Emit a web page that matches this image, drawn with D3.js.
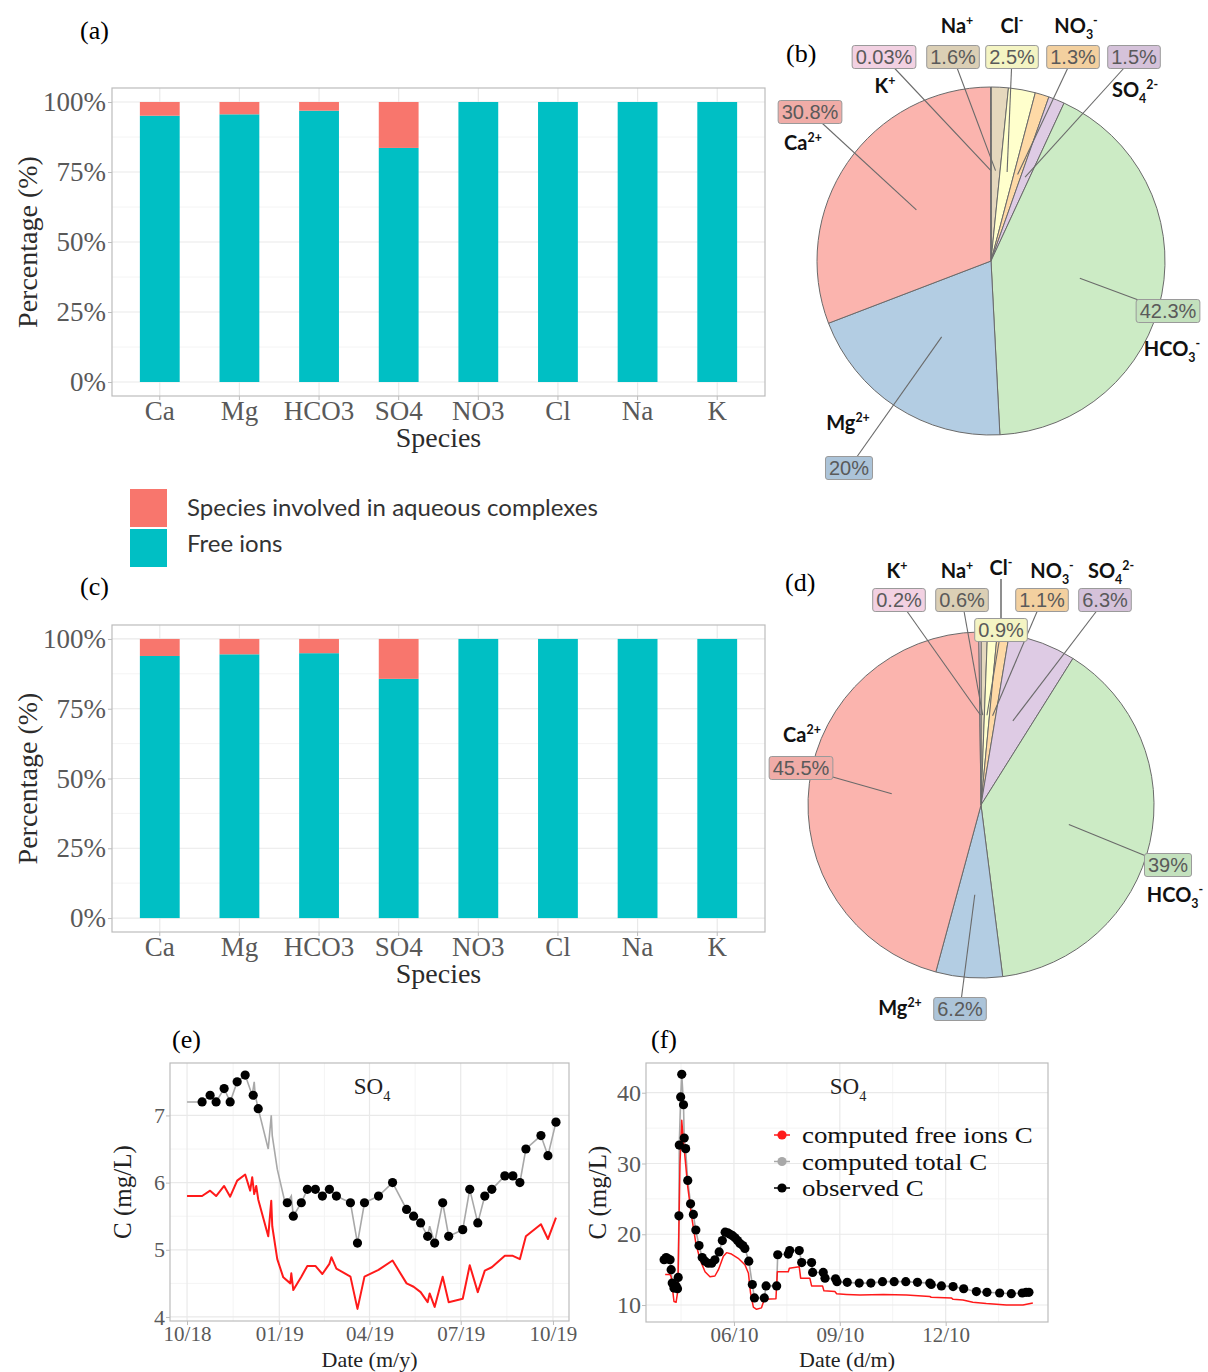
<!DOCTYPE html>
<html>
<head>
<meta charset="utf-8">
<script src="https://cdn.jsdelivr.net/npm/d3@7/dist/d3.min.js"></script>
<style>
  html, body { margin: 0; padding: 0; background: #fff; }
  svg { display: block; }
</style>
</head>
<body>
<svg id="fig" width="1208" height="1372"></svg>
<script>
// ---------- Species partitioning (bar charts a, c) ----------
const species = ["Ca", "Mg", "HCO3", "SO4", "NO3", "Cl", "Na", "K"];
const freeIonsA = [95.1, 95.6, 96.9, 83.6, 100, 100, 100, 100];
const freeIonsC = [93.9, 94.5, 94.9, 85.7, 100, 100, 100, 100];
const percentTicks = [0, 25, 50, 75, 100];
const barLegend = ["Species involved in aqueous complexes", "Free ions"];

// ---------- Ionic composition (pie charts b, d), clockwise from 12 o'clock ----------
const ions = ["Na", "Cl", "NO3", "SO4", "HCO3", "Mg", "Ca", "K"];
const shareB = [1.6, 2.5, 1.3, 1.5, 42.3, 20, 30.8, 0.03];
const shareD = [0.6, 0.9, 1.1, 6.3, 39, 6.2, 45.5, 0.2];

// ---------- SO4 time series, panel e (one year) ----------
const obsEDate = ["2018-10-16","2018-10-24","2018-10-30","2018-11-07","2018-11-13","2018-11-20","2018-11-28","2018-12-06","2018-12-11",
  "2019-01-09","2019-01-15","2019-01-23","2019-01-29","2019-02-06","2019-02-13","2019-02-20","2019-02-27","2019-03-13","2019-03-20",
  "2019-03-27","2019-04-10","2019-04-24","2019-05-08","2019-05-15","2019-05-22","2019-05-29","2019-06-05","2019-06-13","2019-06-19",
  "2019-07-03","2019-07-10","2019-07-18","2019-07-25","2019-08-01","2019-08-14","2019-08-22","2019-08-29","2019-09-04","2019-09-19",
  "2019-09-26","2019-10-04"];
const obsEVal = [7.2,7.3,7.2,7.4,7.2,7.5,7.6,7.3,7.1,
  5.7,5.5,5.7,5.9,5.9,5.8,5.9,5.8,5.7,5.1,
  5.7,5.8,6.0,5.6,5.5,5.4,5.2,5.1,5.7,5.2,
  5.3,5.9,5.4,5.8,5.9,6.1,6.1,6.0,6.5,6.7,
  6.4,6.9];
const totalEDate = ["2018-10-01","2018-10-16","2018-10-24","2018-10-30","2018-11-07","2018-11-13","2018-11-20","2018-11-28","2018-12-05",
  "2018-12-07","2018-12-08","2018-12-11","2018-12-21","2018-12-24","2018-12-25","2018-12-30","2019-01-06","2019-01-09","2019-01-13",
  "2019-01-15","2019-01-23","2019-01-29","2019-02-06","2019-02-13","2019-02-20","2019-02-27","2019-03-13","2019-03-20","2019-03-27",
  "2019-04-10","2019-04-24","2019-05-08","2019-05-15","2019-05-22","2019-05-29","2019-05-31","2019-06-05","2019-06-13","2019-06-19",
  "2019-07-03","2019-07-10","2019-07-18","2019-07-25","2019-08-01","2019-08-14","2019-08-22","2019-08-29","2019-09-04","2019-09-19",
  "2019-09-26","2019-10-04"];
const totalEVal = [7.2,7.2,7.3,7.2,7.4,7.2,7.5,7.6,7.3,
  7.5,7.3,7.1,6.5,7.0,6.7,6.2,5.75,5.7,5.8,
  5.5,5.7,5.9,5.9,5.8,5.9,5.8,5.7,5.1,5.7,
  5.8,6.0,5.6,5.5,5.4,5.2,5.35,5.1,5.7,5.2,
  5.3,5.9,5.4,5.8,5.9,6.1,6.1,6.0,6.5,6.7,
  6.4,6.9];
const freeEDate = ["2018-10-01","2018-10-16","2018-10-24","2018-10-30","2018-11-07","2018-11-13","2018-11-20","2018-11-28","2018-12-03",
  "2018-12-05","2018-12-07","2018-12-09","2018-12-11","2018-12-21","2018-12-24","2018-12-25","2018-12-30","2019-01-05","2019-01-12",
  "2019-01-13","2019-01-15","2019-01-23","2019-01-29","2019-02-06","2019-02-13","2019-02-20","2019-02-22","2019-02-27","2019-03-13",
  "2019-03-20","2019-03-27","2019-04-10","2019-04-24","2019-05-08","2019-05-15","2019-05-22","2019-05-29","2019-05-31","2019-06-05",
  "2019-06-13","2019-06-19","2019-07-03","2019-07-10","2019-07-18","2019-07-25","2019-08-01","2019-08-14","2019-08-22","2019-08-29",
  "2019-09-04","2019-09-19","2019-09-26","2019-10-04"];
const freeEVal = [5.8,5.8,5.88,5.8,5.95,5.79,6.03,6.12,5.88,
  6.08,5.83,5.95,5.75,5.2,5.73,5.35,4.86,4.59,4.5,
  4.65,4.4,4.6,4.76,4.76,4.64,4.79,4.89,4.72,4.6,
  4.12,4.6,4.7,4.84,4.5,4.45,4.37,4.22,4.35,4.15,
  4.6,4.22,4.27,4.77,4.37,4.69,4.74,4.91,4.91,4.86,
  5.2,5.38,5.16,5.48];
const yearTicks = ["2018-10-01","2019-01-01","2019-04-01","2019-07-01","2019-10-01"];
const concTicksE = [4, 5, 6, 7];

// ---------- SO4 time series, panel f (day of October) ----------
const obsFDay = [4.02,4.08,4.14,4.19,4.22,4.25,4.30,4.36,4.40,4.42,4.44,4.45,4.49,4.52,4.57,4.59,4.63,4.69,4.77,4.85,
  4.92,5.01,5.10,5.18,5.27,5.37,5.46,5.58,5.67,5.75,5.82,5.89,5.96,6.03,6.10,6.17,6.25,6.31,6.42,6.52,
  6.58,6.86,6.91,7.21,7.24,7.54,7.58,7.85,7.92,8.20,8.23,8.53,8.58,8.88,8.92,9.21,9.55,9.88,10.21,10.54,
  10.87,11.20,11.55,11.59,11.88,12.21,12.51,12.87,13.17,13.53,13.86,14.17,14.28,14.36];
const obsFVal = [16.4,16.7,16.5,16.4,15.0,13.1,12.4,12.7,12.3,13.9,22.6,32.6,39.4,42.6,38.3,33.6,32.1,27.6,24.3,22.8,
  20.6,18.4,16.7,16.2,15.9,15.9,16.4,17.5,19.1,20.3,20.2,20.0,19.8,19.5,19.1,18.7,18.4,18.0,16.2,12.9,
  11.0,11.0,12.7,12.7,17.1,17.2,17.7,17.7,16.0,16.0,14.6,14.6,13.8,13.7,13.3,13.2,13.1,13.1,13.3,13.3,
  13.3,13.2,13.1,12.9,12.7,12.6,12.3,11.9,11.8,11.7,11.6,11.7,11.8,11.8];
const totalFVal = [16.4,16.6,16.5,16.3,15.0,13.0,12.3,12.6,12.2,13.8,22.6,32.6,39.4,42.6,38.3,33.6,32.0,27.6,24.3,22.7,
  20.5,18.4,16.7,16.2,15.9,15.9,16.4,17.5,19.1,20.3,20.2,20.0,19.8,19.5,19.1,18.7,18.4,18.0,16.2,12.9,
  11.0,11.0,12.7,12.7,17.1,17.2,17.7,17.7,16.0,16.0,14.6,14.6,13.8,13.7,13.3,13.2,13.1,13.1,13.3,13.3,
  13.3,13.2,13.1,12.9,12.7,12.6,12.3,11.9,11.8,11.7,11.6,11.7,11.8,11.8];
const freeFDay = [4.05,4.19,4.22,4.26,4.30,4.36,4.40,4.42,4.47,4.52,4.57,4.61,4.69,4.80,4.92,5.04,5.18,5.32,5.46,5.56,
  5.70,5.79,5.93,6.12,6.31,6.41,6.47,6.55,6.64,6.78,6.86,7.19,7.23,7.54,7.57,7.85,7.89,8.15,8.20,8.51,
  8.55,8.86,8.91,9.19,9.57,10.23,10.89,11.55,11.59,12.16,12.21,12.49,12.77,13.15,13.72,14.19,14.47];
const freeFVal = [14.3,14.3,14.0,12.2,10.5,10.4,11.7,15.0,30.0,36.1,33.0,31.0,26.7,22.5,18.7,16.4,14.7,14.0,14.1,15.0,
  16.9,17.4,17.2,16.6,15.7,14.5,11.7,9.7,9.4,9.6,10.8,10.9,14.7,14.7,15.2,15.4,13.8,13.8,12.7,12.7,
  12.0,11.9,11.6,11.5,11.4,11.5,11.4,11.2,11.1,11.0,10.8,10.7,10.4,10.2,10.0,10.0,10.3];
const octTicks = [6, 9, 12];
const concTicksF = [10, 20, 30, 40];
const seriesLegend = ["computed free ions C", "computed total C", "observed C"];

// ---------- Styling ----------
const SERIF = "'Liberation Serif', 'Times New Roman', serif";
const SANS = "'Liberation Sans', Arial, sans-serif";
const SOFT = "Lato, 'Open Sans', sans-serif";
const GRID = "#e9e9e9", GRID_MINOR = "#f4f4f4", FRAME = "#bcbcbc", TICK_TXT = "#595959";
const COL_COMPLEX = "#F8766D", COL_FREE = "#00BFC4";
const COL_RED = "#ff1a1a", COL_GRAY = "#a8a8a8";
const ionColor = { Ca: "#fbb4ae", Mg: "#b3cde3", HCO3: "#ccebc5", SO4: "#decbe4",
                   NO3: "#fed9a6", Cl: "#ffffcc", Na: "#e5d8bd", K: "#fddaec" };
// chemical names split into [text, kind] pieces
const ionParts = {
  Na: [["Na", ""], ["+", "sup"]],
  Cl: [["Cl", ""], ["-", "sup"]],
  NO3: [["NO", ""], ["3", "sub"], ["-", "sup"]],
  SO4: [["SO", ""], ["4", "sub"], ["2-", "sup"]],
  HCO3: [["HCO", ""], ["3", "sub"], ["-", "sup"]],
  Mg: [["Mg", ""], ["2+", "sup"]],
  Ca: [["Ca", ""], ["2+", "sup"]],
  K: [["K", ""], ["+", "sup"]]
};

const svg = d3.select("#fig");

function text(parent, x, y, str, size, family, o = {}) {
  const t = parent.append("text").attr("x", x).attr("y", y)
    .attr("font-size", size).attr("font-family", family)
    .attr("fill", o.fill || "#000").attr("text-anchor", o.anchor || "start")
    .text(str);
  if (o.weight) t.attr("font-weight", o.weight);
  if (o.rotate) t.attr("transform", `rotate(${o.rotate},${x},${y})`);
  return t;
}

function richText(parent, x, y, parts, size, family, o = {}) {
  const t = parent.append("text").attr("x", x).attr("y", y)
    .attr("font-size", size).attr("font-family", family)
    .attr("fill", o.fill || "#000").attr("text-anchor", o.anchor || "middle");
  if (o.weight) t.attr("font-weight", o.weight);
  let shift = 0;
  parts.forEach(([s, kind]) => {
    const target = kind === "sub" ? size * 0.3 : kind === "sup" ? -size * 0.42 : 0;
    t.append("tspan").attr("dy", target - shift)
      .attr("font-size", kind ? size * 0.62 : size).text(s);
    shift = target;
  });
  return t;
}

function styleAxis(sel, size) {
  sel.select(".domain").remove();
  sel.selectAll(".tick line").attr("stroke", FRAME);
  sel.selectAll(".tick text").attr("font-family", SERIF).attr("font-size", size).attr("fill", TICK_TXT);
}

function hLines(g, vals, y, x0, x1, color, w) {
  g.append("g").selectAll("line").data(vals).join("line")
    .attr("x1", x0).attr("x2", x1).attr("y1", d => y(d)).attr("y2", d => y(d))
    .attr("stroke", color).attr("stroke-width", w);
}
function vLines(g, vals, x, y0, y1, color, w) {
  g.append("g").selectAll("line").data(vals).join("line")
    .attr("y1", y0).attr("y2", y1).attr("x1", d => x(d)).attr("x2", d => x(d))
    .attr("stroke", color).attr("stroke-width", w);
}

// ---------- Stacked 100% bars ----------
function barPanel(free, top, bottom) {
  const left = 112, right = 765;
  const g = svg.append("g");
  const x = d3.scaleBand().domain(species).range([left, right]).paddingInner(0.5).paddingOuter(0.35);
  const y = d3.scaleLinear().domain([-5, 105]).range([bottom, top]);
  const mid = d => x(d) + x.bandwidth() / 2;

  hLines(g, d3.pairs(percentTicks).map(([a, b]) => (a + b) / 2), y, left, right, GRID_MINOR, 1);
  hLines(g, percentTicks, y, left, right, GRID, 1.2);
  vLines(g, species, mid, top, bottom, GRID, 1.2);

  const rows = species.map((s, i) => ({ s, free: free[i], complex: 100 - free[i] }));
  const layers = d3.stack().keys(["free", "complex"])(rows);
  g.append("g").selectAll("g").data(layers).join("g")
    .attr("fill", d => d.key === "free" ? COL_FREE : COL_COMPLEX)
    .selectAll("rect").data(d => d).join("rect")
    .attr("x", d => x(d.data.s)).attr("width", x.bandwidth())
    .attr("y", d => y(d[1])).attr("height", d => y(d[0]) - y(d[1]));

  g.append("rect").attr("x", left).attr("y", top).attr("width", right - left)
    .attr("height", bottom - top).attr("fill", "none").attr("stroke", FRAME).attr("stroke-width", 1.2);

  styleAxis(g.append("g").attr("transform", `translate(${left},0)`)
    .call(d3.axisLeft(y).tickValues(percentTicks).tickFormat(d => d + "%").tickSize(4).tickPadding(2)), 27);
  styleAxis(g.append("g").attr("transform", `translate(0,${bottom})`)
    .call(d3.axisBottom(x).tickSize(4).tickPadding(1)), 27);

  text(g, (left + right) / 2, bottom + 51, "Species", 28, SERIF, { anchor: "middle", fill: "#2b2b2b" });
  text(g, 37, (top + bottom) / 2, "Percentage (%)", 28, SERIF, { anchor: "middle", fill: "#2b2b2b", rotate: -90 });
}

// ---------- Pie with labelled boxes ----------
function piePanel(shares, cx, cy, r, layout) {
  const g = svg.append("g").attr("transform", `translate(${cx},${cy})`);
  const rows = ions.map((k, i) => ({ k, v: shares[i] }));
  const arcs = d3.pie().sort(null).value(d => d.v)(rows);
  const arc = d3.arc().innerRadius(0).outerRadius(r);
  g.selectAll("path").data(arcs).join("path").attr("d", arc)
    .attr("fill", d => ionColor[d.data.k]).attr("stroke", "#6a6a6a").attr("stroke-width", 1);

  const anchor = d3.arc().innerRadius(r * 0.52).outerRadius(r * 0.52);
  const lab = svg.append("g");
  arcs.forEach(a => {
    const L = layout[a.data.k];
    const [px, py] = anchor.centroid(a);
    lab.append("line").attr("x1", L.box[0]).attr("y1", L.box[1])
      .attr("x2", cx + px).attr("y2", cy + py).attr("stroke", "#6a6a6a").attr("stroke-width", 1.1);
    if (L.link) lab.append("line").attr("x1", L.name[0]).attr("y1", L.name[1] + 4)
      .attr("x2", L.box[0]).attr("y2", L.box[1]).attr("stroke", "#333").attr("stroke-width", 1.1);
  });
  arcs.forEach(a => {
    const L = layout[a.data.k];
    const t = text(lab, L.box[0], L.box[1] + 7, a.data.v + "%", 20, SANS, { anchor: "middle", fill: "#5a5a5a" });
    const w = t.node().getComputedTextLength() + 7;
    lab.insert("rect", () => t.node())
      .attr("x", L.box[0] - w / 2).attr("y", L.box[1] - 11.5).attr("width", w).attr("height", 23)
      .attr("rx", 2.5).attr("fill", d3.color(ionColor[a.data.k]).darker(0.12))
      .attr("stroke", "#9a9a9a").attr("stroke-width", 1);
    richText(lab, L.name[0], L.name[1], ionParts[a.data.k], 20, SOFT, { weight: 700, fill: "#111" });
  });
}

// ---------- Time series panel ----------
function timePanel(cfg) {
  const { left, right, top, bottom, x, y } = cfg;
  const g = svg.append("g");
  hLines(g, cfg.yMinor, y, left, right, GRID_MINOR, 1);
  vLines(g, cfg.xMinor, x, top, bottom, GRID_MINOR, 1);
  hLines(g, cfg.yTicks, y, left, right, GRID, 1.2);
  vLines(g, cfg.xTicks, x, top, bottom, GRID, 1.2);

  const line = d3.line().x(d => x(d[0])).y(d => y(d[1]));
  g.append("path").datum(cfg.total).attr("d", line).attr("fill", "none")
    .attr("stroke", COL_GRAY).attr("stroke-width", 1.6);
  g.append("path").datum(cfg.free).attr("d", line).attr("fill", "none")
    .attr("stroke", COL_RED).attr("stroke-width", cfg.redWidth).attr("stroke-linejoin", "round");
  g.append("g").selectAll("circle").data(cfg.obs).join("circle")
    .attr("cx", d => x(d[0])).attr("cy", d => y(d[1])).attr("r", 4.6).attr("fill", "#000");

  g.append("rect").attr("x", left).attr("y", top).attr("width", right - left)
    .attr("height", bottom - top).attr("fill", "none").attr("stroke", FRAME).attr("stroke-width", 1.2);

  styleAxis(g.append("g").attr("transform", `translate(${left},0)`)
    .call(d3.axisLeft(y).tickValues(cfg.yTicks).tickFormat(d3.format("d")).tickSize(4).tickPadding(1)), cfg.yTickSize);
  styleAxis(g.append("g").attr("transform", `translate(0,${bottom})`)
    .call(d3.axisBottom(x).tickValues(cfg.xTicks).tickFormat(d3.timeFormat(cfg.fmt)).tickSize(4).tickPadding(1)), 21);

  text(g, (left + right) / 2, 1367, cfg.xTitle, 22, SERIF, { anchor: "middle", fill: "#222" });
  text(g, cfg.yTitleX, (top + bottom) / 2, "C (mg/L)", 25, SERIF, { anchor: "middle", fill: "#222", rotate: -90 });
  richText(g, cfg.titleX, 1094, [["SO", ""], ["4", "sub"]], 23, SERIF, { fill: "#222" });
  return g;
}

// ---------- Panel a / c ----------
text(svg, 80, 39, "(a)", 26, SERIF);
barPanel(freeIonsA, 88, 396);
text(svg, 80, 595, "(c)", 26, SERIF);
barPanel(freeIonsC, 625, 932);

// shared legend for the bar charts
const legendColors = [COL_COMPLEX, COL_FREE];
barLegend.forEach((lbl, i) => {
  svg.append("rect").attr("x", 130).attr("y", 489 + i * 40).attr("width", 37).attr("height", 38)
    .attr("fill", legendColors[i]);
  text(svg, 187, 516 + i * 36, lbl, 24, SOFT, { fill: "#333" });
});

// ---------- Panel b / d ----------
text(svg, 786, 62, "(b)", 26, SERIF);
piePanel(shareB, 991, 261, 174, {
  Na:   { name: [957, 33],  box: [953, 57] },
  Cl:   { name: [1012, 33], box: [1012, 57] },
  NO3:  { name: [1076, 33], box: [1073, 57] },
  SO4:  { name: [1135, 97], box: [1134, 57] },
  HCO3: { name: [1172, 356], box: [1168, 311] },
  Mg:   { name: [848, 430], box: [849, 468] },
  Ca:   { name: [803, 150], box: [810, 112] },
  K:    { name: [885, 93],  box: [884, 57] }
});
text(svg, 785, 591, "(d)", 26, SERIF);
piePanel(shareD, 981, 805, 173, {
  Na:   { name: [957, 578],  box: [962, 600] },
  Cl:   { name: [1001, 575], box: [1001, 630], link: true },
  NO3:  { name: [1052, 578], box: [1042, 600] },
  SO4:  { name: [1111, 578], box: [1105, 600] },
  HCO3: { name: [1175, 902], box: [1168, 865] },
  Mg:   { name: [900, 1015], box: [960, 1009] },
  Ca:   { name: [802, 742],  box: [801, 768] },
  K:    { name: [897, 578],  box: [899, 600] }
});

// ---------- Panel e ----------
const pDate = d3.timeParse("%Y-%m-%d");
const zip = (xs, ys, f) => xs.map((v, i) => [f(v), ys[i]]);
text(svg, 172, 1048, "(e)", 26, SERIF);
const xE = d3.scaleTime().domain([pDate("2018-09-14"), pDate("2019-10-17")]).range([170, 569]);
const yE = d3.scaleLinear().domain([3.94, 7.78]).range([1321, 1063]);
timePanel({
  left: 170, right: 569, top: 1063, bottom: 1321, x: xE, y: yE,
  xTicks: yearTicks.map(pDate),
  xMinor: d3.pairs(yearTicks.map(pDate)).map(([a, b]) => new Date((+a + +b) / 2)),
  yTicks: concTicksE, yMinor: d3.pairs(concTicksE).map(([a, b]) => (a + b) / 2),
  fmt: "%m/%y", xTitle: "Date (m/y)", yTitleX: 131, titleX: 372, yTickSize: 22, redWidth: 2,
  total: zip(totalEDate, totalEVal, pDate),
  free: zip(freeEDate, freeEVal, pDate),
  obs: zip(obsEDate, obsEVal, pDate)
});

// ---------- Panel f ----------
const octDay = d => new Date(2010, 9, 1, 0, 0).getTime() + (d - 1) * 864e5;
const oct = d => new Date(octDay(d));
text(svg, 651, 1048, "(f)", 26, SERIF);
const xF = d3.scaleTime().domain([oct(3.507), oct(14.9)]).range([646, 1048]);
const yF = d3.scaleLinear().domain([7.6, 44.2]).range([1322, 1063]);
const octMinor = [4.5, 7.5, 10.5, 13.5];
const gF = timePanel({
  left: 646, right: 1048, top: 1063, bottom: 1322, x: xF, y: yF,
  xTicks: octTicks.map(oct), xMinor: octMinor.map(oct),
  yTicks: concTicksF, yMinor: [15, 25, 35],
  fmt: "%d/%m", xTitle: "Date (d/m)", yTitleX: 606, titleX: 848, yTickSize: 24, redWidth: 1.5,
  total: zip(obsFDay, totalFVal, oct),
  free: zip(freeFDay, freeFVal, oct),
  obs: zip(obsFDay, obsFVal, oct)
});

// legend for the series: compact serif lines, widened to a tidy column
const seriesColors = [COL_RED, COL_GRAY, "#000"];
seriesLegend.forEach((lbl, i) => {
  const cy = 1135 + i * 26.5;
  gF.append("line").attr("x1", 774).attr("x2", 790).attr("y1", cy).attr("y2", cy)
    .attr("stroke", seriesColors[i]).attr("stroke-width", 1.5);
  gF.append("circle").attr("cx", 782).attr("cy", cy).attr("r", 4.6).attr("fill", seriesColors[i]);
  const t = text(gF, 802, cy + 8, lbl, 24, SERIF, { fill: "#111" });
  t.attr("textLength", t.node().getComputedTextLength() * 1.12).attr("lengthAdjust", "spacingAndGlyphs");
});
</script>
</body>
</html>
